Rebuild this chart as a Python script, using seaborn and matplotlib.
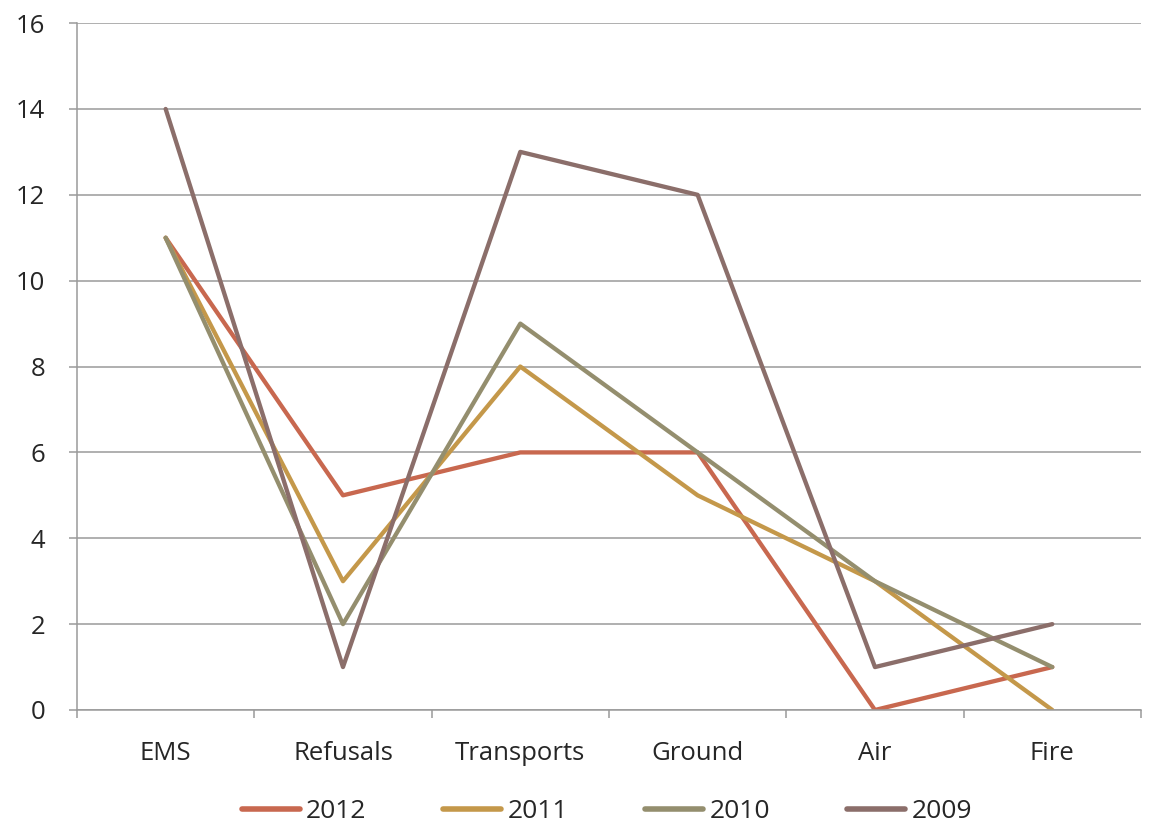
import pandas as pd
import numpy as np
import matplotlib.pyplot as plt
import seaborn as sns

# Data
categories = ['EMS', 'Refusals', 'Transports', 'Ground', 'Air', 'Fire']
years = ['2012', '2011', '2010', '2009']
vals_2012 = [11, 5, 6, 6, 0, 1]
vals_2011 = [11, 3, 8, 5, 3, 0]
vals_2010 = [11, 2, 9, 6, 3, 1]
vals_2009 = [14, 1, 13, 12, 1, 2]

colors = ['#C8684F', '#C4984A', '#948E6E', '#8B6E6A']
grid_col = '#9a9a9a'

# Long-form table
df = pd.DataFrame({
    'category': categories * 4,
    'year': np.repeat(years, len(categories)),
    'value': vals_2012 + vals_2011 + vals_2010 + vals_2009,
})

sns.set_style('white')
plt.rcParams['font.family'] = ['Open Sans', 'DejaVu Sans']

fig = plt.figure(figsize=(11.49, 8.25), dpi=100)
ax = fig.add_axes([0.067, 0.1394, 0.926, 0.8326])

sns.lineplot(data=df, x='category', y='value', hue='year',
             palette=colors, linewidth=3.1, sort=False, ax=ax)

ax.set_xlim(-0.5, len(categories) - 0.5)
ax.set_ylim(0, 16)
ax.set_yticks(range(0, 17, 2))
ax.yaxis.grid(True, color=grid_col, linewidth=1.1)
ax.set_axisbelow(True)

# Ticks between the categories on x
ax.set_xticks(np.arange(-0.5, len(categories), 1.0), minor=True)
ax.tick_params(axis='x', which='major', length=0, pad=22, labelsize=18.5)
ax.tick_params(axis='x', which='minor', bottom=True, length=5.8, color=grid_col,
               width=1.1, direction='out')
ax.tick_params(axis='y', left=True, length=5.8, color=grid_col, width=1.1,
               direction='out', labelsize=18.5, pad=17)

for s in ['top', 'right']:
    ax.spines[s].set_visible(False)
for s in ['left', 'bottom']:
    ax.spines[s].set_color(grid_col)
    ax.spines[s].set_linewidth(1.1)

ax.set_xlabel('')
ax.set_ylabel('')

handles, labels = ax.get_legend_handles_labels()
ax.get_legend().remove()
leg = fig.legend(handles, labels, loc='center', bbox_to_anchor=(0.528, 0.016),
                 ncol=4, frameon=False, fontsize=19, handlelength=2.2,
                 handletextpad=0.25, columnspacing=2.9)
for line in leg.get_lines():
    line.set_linewidth(4)
    line.set_solid_capstyle('round')

fig.savefig('out.png', dpi=100)
